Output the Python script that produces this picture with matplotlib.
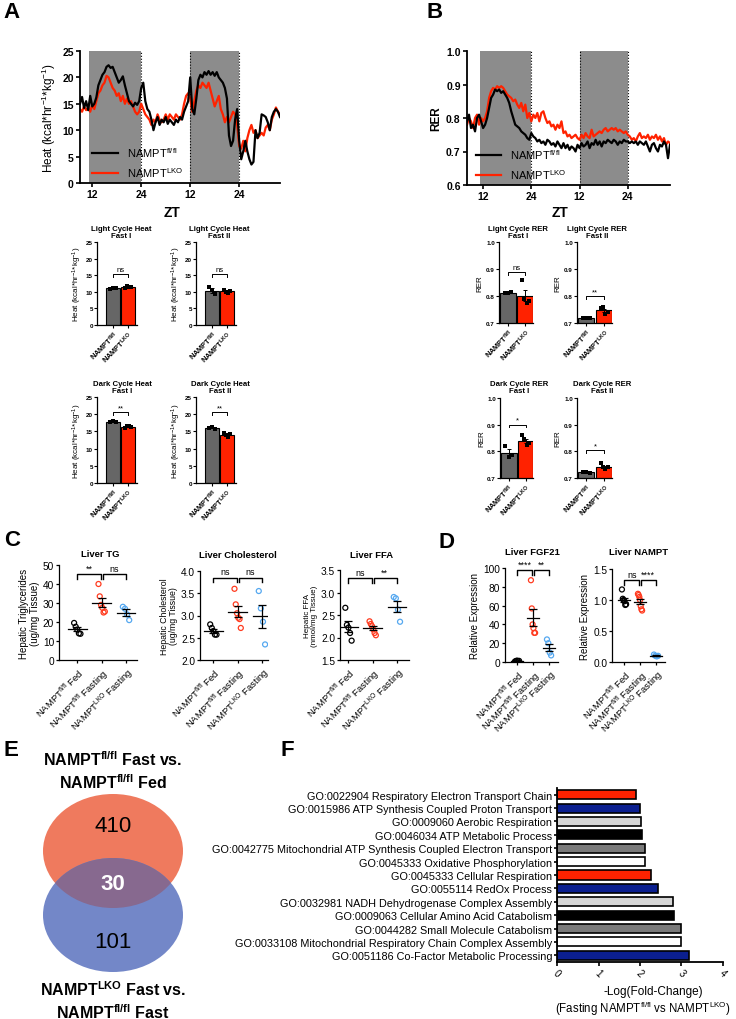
"""
Multi-panel metabolic phenotyping figure (NAMPT fl/fl vs LKO)
"""
import numpy as np
import matplotlib
matplotlib.use('Agg')
import matplotlib.pyplot as plt
from matplotlib.patches import Ellipse

plt.rcParams.update({
    'font.family': ['Liberation Sans', 'DejaVu Sans'],
    'mathtext.fontset': 'custom',
    'mathtext.rm': 'Liberation Sans',
    'mathtext.it': 'Liberation Sans:italic',
    'mathtext.bf': 'Liberation Sans:bold',
    'mathtext.default': 'regular',
})

# ---------------- data ----------------
# Panel A: heat trace, one value every 0.5 h starting at -3 h after ZT12
heat_ff = [15.0, 16.3, 14.2, 15.5, 13.8, 16.5, 14.5,
           15.0, 16.2, 18.5, 19.5, 20.5, 21.0, 22.0, 22.3, 21.8, 22.0, 21.0, 20.0,
           19.0, 19.5, 20.2, 18.5, 17.0, 15.5, 15.0, 14.5, 15.2, 14.8, 15.5, 18.0,
           19.0, 15.5, 14.0, 13.5, 12.0, 10.0, 11.5, 12.5, 11.0, 12.0, 11.5, 12.5,
           11.2, 12.0, 11.5, 11.0, 12.0, 11.5, 12.5, 12.0, 13.5, 14.5, 15.5, 20.0,
           14.0, 13.0, 16.0, 19.5, 20.5, 20.0, 21.0, 20.5, 21.2, 20.5, 21.0, 20.3,
           21.0, 20.0, 19.5, 19.0, 18.0, 16.0, 9.0, 7.0, 8.0, 12.0, 14.0, 8.0,
           4.5, 6.0, 8.0, 6.0, 4.5, 3.5, 4.0, 10.0, 8.5, 9.5, 13.0, 12.8,
           12.5, 11.5, 10.0, 12.5, 13.5, 14.0, 13.5, 12.5]
heat_lko = [14.0, 13.5, 14.5, 13.8, 14.2, 13.5, 14.8,
            14.0, 15.5, 17.0, 17.5, 18.5, 19.0, 20.3, 20.0, 19.0, 18.0, 17.5, 16.5,
            17.0, 15.5, 16.5, 15.0, 16.0, 15.0, 15.5, 14.5, 13.5, 13.0, 13.5, 15.0,
            14.0, 13.0, 12.5, 12.0, 11.0, 12.0, 11.5, 13.0, 12.0, 11.5, 12.0, 13.0,
            12.0, 13.0, 12.5, 12.0, 13.0, 12.5, 12.0, 13.0, 15.0, 16.5, 17.0, 16.0,
            13.5, 15.5, 17.5, 18.5, 18.0, 19.0, 18.5, 18.0, 19.0, 17.5, 16.0, 14.5,
            15.5, 16.5, 14.0, 13.0, 11.5, 12.5, 11.5, 12.5, 13.5, 13.0, 11.0, 7.0,
            6.5, 8.0, 6.0, 8.5, 10.0, 11.0, 9.5, 10.0, 8.5, 9.0, 9.5, 9.0,
            10.5, 11.0, 10.0, 12.0, 13.0, 14.3, 13.5, 13.0]

# Panel B: RER trace, one value every 0.5 h starting at -4 h
rer_ff = [0.79, 0.81, 0.77, 0.78, 0.76, 0.80, 0.81, 0.79,
          0.77, 0.78, 0.80, 0.83, 0.86, 0.87, 0.885, 0.88, 0.885, 0.875, 0.88, 0.87,
          0.86, 0.845, 0.82, 0.80, 0.78, 0.775, 0.77, 0.76, 0.755, 0.75, 0.74, 0.735,
          0.755, 0.745, 0.74, 0.73, 0.735, 0.725, 0.73, 0.72, 0.735, 0.73, 0.72, 0.725,
          0.715, 0.73, 0.72, 0.71, 0.725, 0.71, 0.72, 0.705, 0.715, 0.71, 0.70, 0.72,
          0.71, 0.725, 0.715, 0.72, 0.73, 0.71, 0.725, 0.72, 0.735, 0.72, 0.73, 0.715,
          0.73, 0.725, 0.735, 0.73, 0.725, 0.735, 0.73, 0.72, 0.73, 0.725, 0.735, 0.73,
          0.73, 0.725, 0.73, 0.725, 0.73, 0.72, 0.73, 0.725, 0.72, 0.73, 0.715, 0.70,
          0.72, 0.725, 0.71, 0.70, 0.72, 0.715, 0.73, 0.72, 0.68, 0.72]
rer_lko = [0.78, 0.80, 0.79, 0.77, 0.80, 0.81, 0.78, 0.80,
           0.79, 0.80, 0.82, 0.86, 0.88, 0.89, 0.885, 0.895, 0.89, 0.895, 0.89, 0.88,
           0.87, 0.865, 0.86, 0.85, 0.855, 0.84, 0.83, 0.845, 0.82, 0.84, 0.80, 0.815,
           0.79, 0.81, 0.80, 0.815, 0.79, 0.815, 0.82, 0.80, 0.785, 0.79, 0.775, 0.78,
           0.765, 0.78, 0.77, 0.79, 0.755, 0.76, 0.745, 0.75, 0.74, 0.745, 0.75, 0.74,
           0.735, 0.75, 0.74, 0.755, 0.745, 0.74, 0.765, 0.745, 0.75, 0.755, 0.76, 0.755,
           0.765, 0.77, 0.76, 0.765, 0.77, 0.765, 0.77, 0.76, 0.765, 0.76, 0.755, 0.76,
           0.75, 0.745, 0.735, 0.74, 0.73, 0.745, 0.755, 0.74, 0.745, 0.74, 0.75, 0.735,
           0.745, 0.74, 0.75, 0.735, 0.745, 0.73, 0.74, 0.72, 0.73, 0.725]

# Panel A/B summary bars (individual animals)
heat_light1 = ([10.9, 11.1, 11.0], [11.0, 11.6, 11.3, 11.5])
heat_light2 = ([11.5, 10.4, 9.2], [10.6, 10.0, 9.6, 10.2])
heat_dark1 = ([17.8, 18.0, 17.6], [16.0, 16.7, 16.5, 16.3])
heat_dark2 = ([16.0, 16.2, 15.8], [14.6, 14.0, 13.4, 14.2])
rer_light1 = ([0.812, 0.810, 0.813], [0.86, 0.79, 0.775, 0.78])
rer_light2 = ([0.718, 0.720, 0.717], [0.755, 0.76, 0.735, 0.74])
rer_dark1 = ([0.82, 0.78, 0.785], [0.86, 0.845, 0.825, 0.83])
rer_dark2 = ([0.722, 0.724, 0.720], [0.755, 0.74, 0.735, 0.74])

# Panel C/D: Fed ff, Fasting ff, Fasting LKO
liver_tg = [[19.5, 17.5, 16.0, 14.0, 13.8],
            [40.0, 33.5, 29.0, 27.5, 25.0, 25.5],
            [28.0, 27.0, 24.0, 21.0]]
liver_chol = [[2.80, 2.72, 2.65, 2.57, 2.57],
              [3.60, 3.25, 3.05, 2.95, 2.92, 2.72],
              [3.55, 3.16, 2.86, 2.35]]
liver_ffa = [[2.66, 2.28, 2.22, 2.10, 1.93],
             [2.36, 2.30, 2.25, 2.18, 2.10, 2.05],
             [2.90, 2.87, 2.62, 2.35]]
liver_fgf21 = [[0.5, 1.0, 1.5, 0.8, 1.2],
               [87.0, 57.0, 40.0, 36.0, 31.0, 31.0],
               [24.0, 20.0, 10.0, 7.0]]
liver_nampt = [[1.17, 1.02, 1.00, 0.98, 0.92, 0.93],
               [1.10, 1.08, 1.05, 1.00, 0.90, 0.85, 0.83],
               [0.12, 0.10, 0.09, 0.10]]
dot_groups = ['NAMPT$^{fl/fl}$ Fed', 'NAMPT$^{fl/fl}$ Fasting', 'NAMPT$^{LKO}$ Fasting']

# Panel E: Venn counts
venn_counts = [410, 30, 101]

# Panel F: GO terms
go_terms = ['GO:0022904 Respiratory Electron Transport Chain',
            'GO:0015986 ATP Synthesis Coupled Proton Transport',
            'GO:0009060 Aerobic Respiration',
            'GO:0046034 ATP Metabolic Process',
            'GO:0042775 Mitochondrial ATP Synthesis Coupled Electron Transport',
            'GO:0045333 Oxidative Phosphorylation',
            'GO:0045333 Cellular Respiration',
            'GO:0055114 RedOx Process',
            'GO:0032981 NADH Dehydrogenase Complex Assembly',
            'GO:0009063 Cellular Amino Acid Catabolism',
            'GO:0044282 Small Molecule Catabolism',
            'GO:0033108 Mitochondrial Respiratory Chain Complex Assembly',
            'GO:0051186 Co-Factor Metabolic Processing']
go_values = [1.91, 2.01, 2.02, 2.05, 2.12, 2.13, 2.26, 2.43, 2.80, 2.82, 3.00, 3.00, 3.18]
go_colors = ['#FF2200', '#0B1F8F', '#D6D6D6', '#000000', '#7A7A7A', '#FFFFFF',
             '#FF2200', '#0B1F8F', '#D6D6D6', '#000000', '#7A7A7A', '#FFFFFF', '#0B1F8F']

RED = '#FF2200'
GREY_BAR = '#666666'
W, H = 736, 1020

fig = plt.figure(figsize=(W / 100, H / 100), dpi=100)


def add_ax(l, t, r, b):
    return fig.add_axes([l / W, 1 - b / H, (r - l) / W, (b - t) / H])


def ftext(x, y, s, **kw):
    kw.setdefault('ha', 'center')
    kw.setdefault('va', 'center')
    fig.text(x / W, 1 - y / H, s, **kw)


def clean(ax, lw=1.0):
    ax.spines['top'].set_visible(False)
    ax.spines['right'].set_visible(False)
    ax.spines['left'].set_linewidth(lw)
    ax.spines['bottom'].set_linewidth(lw)


# ---------------- panel letters ----------------
for lab, x, y in [('A', 12, 13), ('B', 435, 13), ('C', 12, 541),
                  ('D', 447, 543), ('E', 11, 750), ('F', 287, 750)]:
    ftext(x, y, lab, fontsize=16, fontweight='bold')


# ---------------- A / B traces ----------------
def trace(box, t0, ff, lko, xlim, ylim, yticks, yfmt, ylabel, ylab_bold, leg_anchor):
    ax = add_ax(*box)
    hrs_ff = t0 + 0.5 * np.arange(len(ff))
    hrs_lko = t0 + 0.5 * np.arange(len(lko))
    ax.axvspan(-0.7, 12, color='#8c8c8c', lw=0, zorder=0)
    ax.axvspan(24, 36, color='#8c8c8c', lw=0, zorder=0)
    for xv in (12, 24, 36):
        ax.axvline(xv, color='black', ls=':', lw=0.8, zorder=1)
    l2, = ax.plot(hrs_lko, lko, color=RED, lw=1.6, zorder=2)
    l1, = ax.plot(hrs_ff, ff, color='black', lw=1.6, zorder=3)
    ax.legend([l1, l2], ['NAMPT$^{fl/fl}$', 'NAMPT$^{LKO}$'], loc='lower left',
              bbox_to_anchor=leg_anchor, frameon=False, fontsize=8,
              handlelength=2.3, labelspacing=0.5, borderaxespad=0)
    ax.set_xlim(*xlim)
    ax.set_ylim(*ylim)
    ax.set_xticks([0, 12, 24, 36])
    ax.set_xticklabels(['12', '24', '12', '24'])
    ax.set_yticks(yticks)
    ax.set_yticklabels([yfmt.format(v) for v in yticks])
    ax.tick_params(labelsize=7.5, width=1.2, length=3, pad=1.5)
    for lbl in ax.get_xticklabels() + ax.get_yticklabels():
        lbl.set_fontweight('bold')
    ax.set_ylabel(ylabel, fontsize=8.5, fontweight='bold' if ylab_bold else 'normal', labelpad=3)
    clean(ax, 1.3)
    return ax


trace((80, 52, 280, 184), -3.0, heat_ff, heat_lko, (-3, 46), (0, 25),
      [0, 5, 10, 15, 20, 25], '{:.0f}', 'Heat (kcal*hr$^{-1}$*kg$^{-1}$)', False, (0.04, 0.0))
trace((467, 52, 670, 186), -4.0, rer_ff, rer_lko, (-4, 46.5), (0.6, 1.0),
      [0.6, 0.7, 0.8, 0.9, 1.0], '{:.1f}', 'RER', True, (0.02, 0.0))
ftext(172, 213, 'ZT', fontsize=10, fontweight='bold')
ftext(560, 213, 'ZT', fontsize=10, fontweight='bold')


# ---------------- A / B summary bars ----------------
def bar_panel(box, xlim, pts, ylim, yticks, yfmt, ylabel, title, title_xy, sig, sig_y, drop):
    ax = add_ax(*box)
    means = [np.mean(p) for p in pts]
    sems = [np.std(p, ddof=1) / np.sqrt(len(p)) for p in pts]
    ax.bar([0, 1], means, width=0.92, color=[GREY_BAR, RED], edgecolor='black', lw=0.8, zorder=1)
    ax.errorbar([0, 1], means, yerr=sems, fmt='none', ecolor='black', elinewidth=0.7,
                capsize=1.5, capthick=0.7, zorder=2)
    for i, p in enumerate(pts):
        offs = np.linspace(-0.2, 0.2, len(p))
        ax.scatter(i + offs, p, s=5, marker='s', color='black', zorder=3, lw=0)
    ax.plot([0, 0, 1, 1], [sig_y - drop, sig_y, sig_y, sig_y - drop], color='black', lw=0.7)
    ax.text(0.5, sig_y + drop * 0.4, sig, ha='center', va='bottom', fontsize=5.5)
    ax.set_xlim(*xlim)
    ax.set_ylim(*ylim)
    ax.set_yticks(yticks)
    ax.set_yticklabels([yfmt.format(v) for v in yticks])
    ax.set_xticks([0, 1])
    ax.set_xticklabels(['NAMPT$^{fl/fl}$', 'NAMPT$^{LKO}$'], rotation=45, ha='right',
                       rotation_mode='anchor', fontsize=5.3, fontweight='bold')
    ax.tick_params(axis='y', labelsize=4.5, width=0.8, length=2, pad=1)
    ax.tick_params(axis='x', width=0.8, length=2, pad=1)
    for lbl in ax.get_yticklabels():
        lbl.set_fontweight('bold')
    ax.set_ylabel(ylabel, fontsize=5.8, labelpad=1.5)
    clean(ax, 0.9)
    ftext(title_xy[0], title_xy[1], title, fontsize=5.6, fontweight='bold', linespacing=1.15)
    return ax


heat_ticks = [0, 5, 10, 15, 20, 25]
heat_lab = 'Heat (kcal*hr$^{-1}$*kg$^{-1}$)'
bar_panel((97, 243, 137, 326), (-1.07, 1.6), heat_light1, (0, 25), heat_ticks, '{:.0f}', heat_lab,
          'Light Cycle Heat\nFast I', (121, 233), 'ns', 15.4, 0.8)
bar_panel((196, 243, 236, 326), (-1.07, 1.6), heat_light2, (0, 25), heat_ticks, '{:.0f}', heat_lab,
          'Light Cycle Heat\nFast II', (219, 233), 'ns', 15.4, 0.8)
bar_panel((97, 398, 137, 484), (-1.07, 1.6), heat_dark1, (0, 25), heat_ticks, '{:.0f}', heat_lab,
          'Dark Cycle Heat\nFast I', (122, 388), '**', 20.6, 0.8)
bar_panel((196, 398, 236, 484), (-1.07, 1.6), heat_dark2, (0, 25), heat_ticks, '{:.0f}', heat_lab,
          'Dark Cycle Heat\nFast II', (220, 388), '**', 20.6, 0.8)

rer_ticks = [0.7, 0.8, 0.9, 1.0]
bar_panel((499, 243, 533, 324), (-0.52, 1.44), rer_light1, (0.7, 1.0), rer_ticks, '{:.1f}', 'RER',
          'Light Cycle RER\nFast I', (518, 233), 'ns', 0.889, 0.01)
bar_panel((577, 243, 612, 324), (-0.52, 1.44), rer_light2, (0.7, 1.0), rer_ticks, '{:.1f}', 'RER',
          'Light Cycle RER\nFast II', (597, 233), '**', 0.80, 0.01)
bar_panel((500, 399, 533, 479), (-0.52, 1.44), rer_dark1, (0.7, 1.0), rer_ticks, '{:.1f}', 'RER',
          'Dark Cycle RER\nFast I', (519, 388), '*', 0.90, 0.01)
bar_panel((577, 399, 612, 479), (-0.52, 1.44), rer_dark2, (0.7, 1.0), rer_ticks, '{:.1f}', 'RER',
          'Dark Cycle RER\nFast II', (602, 388), '*', 0.805, 0.01)


# ---------------- C / D dot plots ----------------
DOT_COLORS = ['black', '#FF3B1F', '#55A8F0']


def dot_panel(box, xlim, groups, ylim, yticks, yfmt, ylabel, ylab_size, title, title_xy,
              sigs, sig_y, drop):
    ax = add_ax(*box)
    for i, p in enumerate(groups):
        m = np.mean(p)
        se = np.std(p, ddof=1) / np.sqrt(len(p))
        offs = np.linspace(-0.13, 0.13, len(p))
        ax.scatter(i + offs, p, s=13, facecolors='none', edgecolors=DOT_COLORS[i], lw=0.9, zorder=2)
        ax.plot([i - 0.38, i + 0.38], [m, m], color='black', lw=0.9, zorder=3)
        ax.errorbar([i], [m], yerr=[se], fmt='none', ecolor='black', elinewidth=0.9,
                    capsize=3, capthick=0.9, zorder=3)
    for (a, b_), s in zip([(0, 1), (1, 2)], sigs):
        xa = a + 0.04 if a == 1 else a
        xb = b_ - 0.04 if b_ == 1 else b_
        ax.plot([xa, xa, xb, xb], [sig_y - drop, sig_y, sig_y, sig_y - drop], color='black', lw=1.0)
        ax.text((a + b_) / 2, sig_y + drop * 0.3, s, ha='center', va='bottom', fontsize=6.5)
    ax.set_xlim(*xlim)
    ax.set_ylim(*ylim)
    ax.set_yticks(yticks)
    ax.set_yticklabels([yfmt.format(v) for v in yticks])
    ax.set_xticks([0, 1, 2])
    ax.set_xticklabels(dot_groups, rotation=45, ha='right', rotation_mode='anchor', fontsize=6.8)
    ax.tick_params(axis='y', labelsize=7.3, width=0.9, length=2.5, pad=1)
    ax.tick_params(axis='x', width=0.9, length=2.5, pad=1.5)
    ax.set_ylabel(ylabel, fontsize=ylab_size, labelpad=2, linespacing=1.1)
    clean(ax, 0.9)
    ftext(title_xy[0], title_xy[1], title, fontsize=6.8, fontweight='bold')
    return ax


dot_panel((59, 566, 137, 661), (-0.75, 2.45), liver_tg, (0, 50), [0, 10, 20, 30, 40, 50], '{:.0f}',
          'Hepatic Triglycerides\n(ug/mg Tissue)', 7, 'Liver TG', (100, 555), ['**', 'ns'], 45.2, 2.6)
dot_panel((200, 572, 268, 661), (-0.55, 2.25), liver_chol, (2.0, 4.0), [2.0, 2.5, 3.0, 3.5, 4.0], '{:.1f}',
          'Hepatic Cholesterol\n(ug/mg Tissue)', 6.3, 'Liver Cholesterol', (238, 556), ['ns', 'ns'], 3.85, 0.1)
dot_panel((340, 571, 409, 661), (-0.35, 2.5), liver_ffa, (1.5, 3.5), [1.5, 2.0, 2.5, 3.0, 3.5], '{:.1f}',
          'Hepatic FFA\n(nmol/mg Tissue)', 5.8, 'Liver FFA', (372, 556), ['ns', '**'], 3.32, 0.1)
dot_panel((505, 569, 558, 663), (-0.75, 2.56), liver_fgf21, (0, 100), [0, 20, 40, 60, 80, 100], '{:.0f}',
          'Relative Expression', 7, 'Liver FGF21', (532, 553), ['****', '**'], 97.5, 5)
dot_panel((612, 570, 665, 663), (-0.75, 2.56), liver_nampt, (0, 1.5), [0.0, 0.5, 1.0, 1.5], '{:.1f}',
          'Relative Expression', 7, 'Liver NAMPT', (639, 553), ['ns', '****'], 1.32, 0.07)


# ---------------- E Venn ----------------
axE = add_ax(0, 740, 250, 1020)
axE.set_xlim(0, 250)
axE.set_ylim(1020, 740)
axE.axis('off')
orange = Ellipse((113, 852), 140, 114, color='#EF7A5E', lw=0)
blue = Ellipse((113, 916), 140, 114, color='#7387C8', lw=0)
overlap = Ellipse((113, 852), 140, 114, color='#87698F', lw=0)
axE.add_patch(orange)
axE.add_patch(blue)
axE.add_patch(overlap)
overlap.set_clip_path(blue)
axE.text(113, 827, str(venn_counts[0]), ha='center', va='center', fontsize=16)
axE.text(113, 885, str(venn_counts[1]), ha='center', va='center', fontsize=16,
         fontweight='bold', color='white')
axE.text(113, 943, str(venn_counts[2]), ha='center', va='center', fontsize=16)
axE.text(113, 771, 'NAMPT$^{fl/fl}$ Fast vs.\nNAMPT$^{fl/fl}$ Fed', ha='center', va='center',
         fontsize=11.5, fontweight='bold', linespacing=1.25)
axE.text(113, 1001, 'NAMPT$^{LKO}$ Fast vs.\nNAMPT$^{fl/fl}$ Fast', ha='center', va='center',
         fontsize=11.5, fontweight='bold', linespacing=1.25)


# ---------------- F GO bars ----------------
axF = add_ax(557, 789, 723, 963)
ypos = np.arange(len(go_terms))
axF.barh(ypos, go_values, height=0.68, color=go_colors, edgecolor='black', lw=1.2)
axF.set_ylim(len(go_terms) - 0.5, -0.5)
axF.set_xlim(0, 4)
axF.set_yticks(ypos)
axF.set_yticklabels(go_terms, fontsize=7.8)
axF.set_xticks([0, 1, 2, 3, 4])
axF.tick_params(axis='x', labelsize=7, labelrotation=-45, width=1.2, length=3, pad=1)
axF.tick_params(axis='y', width=1.2, length=2.5, pad=1)
clean(axF, 1.3)
ftext(653, 992, '-Log(Fold-Change)', fontsize=8.5)
ftext(731, 1009, '(Fasting NAMPT$^{fl/fl}$ vs NAMPT$^{LKO}$)', fontsize=8.3, ha='right')

fig.savefig('out.png', dpi=100)
